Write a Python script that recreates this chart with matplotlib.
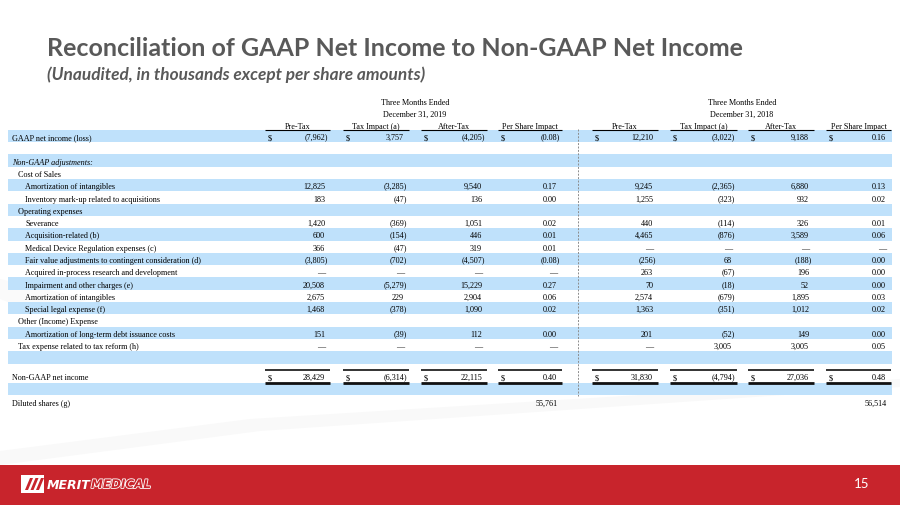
import matplotlib
matplotlib.use("Agg")
import numpy as np
import matplotlib.pyplot as plt
from matplotlib.patches import Rectangle, Polygon
import matplotlib.patheffects as pe

DASH = "—"

title = "Reconciliation of GAAP Net Income to Non-GAAP Net Income"
subtitle = "(Unaudited, in thousands except per share amounts)"
period_labels = ["Three Months Ended\nDecember 31, 2019", "Three Months Ended\nDecember 31, 2018"]
column_labels = ["Pre-Tax", "Tax Impact (a)", "After-Tax", "Per Share Impact"]

row_labels = [
    "GAAP net income (loss)", "", "Non-GAAP adjustments:", "Cost of Sales",
    "Amortization of intangibles", "Inventory mark-up related to acquisitions",
    "Operating expenses", "Severance", "Acquisition-related (b)",
    "Medical Device Regulation expenses (c)",
    "Fair value adjustments to contingent consideration (d)",
    "Acquired in-process research and development",
    "Impairment and other charges (e)", "Amortization of intangibles",
    "Special legal expense (f)", "Other (Income) Expense",
    "Amortization of long-term debt issuance costs",
    "Tax expense related to tax reform (h)", "", "Non-GAAP net income", "",
    "Diluted shares (g)",
]
row_indent = [0, 0, 0, 1, 2, 2, 1, 2, 2, 2, 2, 2, 2, 2, 2, 1, 2, 1, 0, 0, 0, 0]

pretax_2019 = [-7962, None, None, None, 12825, 183, None, 1420, 600, 366, -3805, DASH,
               20508, 2675, 1468, None, 151, DASH, None, 28429, None, None]
tax_2019 = [3757, None, None, None, -3285, -47, None, -369, -154, -47, -702, DASH,
            -5279, 229, -378, None, -39, DASH, None, -6314, None, None]
after_2019 = [-4205, None, None, None, 9540, 136, None, 1051, 446, 319, -4507, DASH,
              15229, 2904, 1090, None, 112, DASH, None, 22115, None, None]
pershare_2019 = [-0.08, None, None, None, 0.17, 0.00, None, 0.02, 0.01, 0.01, -0.08, DASH,
                 0.27, 0.06, 0.02, None, 0.00, DASH, None, 0.40, None, None]

pretax_2018 = [12210, None, None, None, 9245, 1255, None, 440, 4465, DASH, -256, 263,
               70, 2574, 1363, None, 201, DASH, None, 31830, None, None]
tax_2018 = [-3022, None, None, None, -2365, -323, None, -114, -876, DASH, 68, -67,
            -18, -679, -351, None, -52, 3005, None, -4794, None, None]
after_2018 = [9188, None, None, None, 6880, 932, None, 326, 3589, DASH, -188, 196,
              52, 1895, 1012, None, 149, 3005, None, 27036, None, None]
pershare_2018 = [0.16, None, None, None, 0.13, 0.02, None, 0.01, 0.06, DASH, 0.00, 0.00,
                 0.00, 0.03, 0.02, None, 0.00, 0.05, None, 0.48, None, None]

diluted_shares = [55761, 56514]
dollar_rows = [0, 19]
page_number = "15"

# ---------------------------------------------------------------- layout
W, H = 900, 506
DPI = 100
SERIF = "Liberation Serif"
FS = 5.9
BL = 3     # baseline offset from row centre (px)
EPS = 0.25
BLUE = "#BFE1FB"
RED = "#C8242C"
GRAY = "#595959"

pitch = 12.3
row_y = [137 + pitch * i for i in range(19)] + [377, 390.3, 403]

spans = [[(265, 330), (343, 409), (421, 487), (498, 562)],
         [(592, 658), (670, 737), (748, 814), (826, 891)]]
period_centers = [415, 742]
series = [[pretax_2019, tax_2019, after_2019, pershare_2019],
          [pretax_2018, tax_2018, after_2018, pershare_2018]]


def fmt(v, dec):
    if v is None:
        return None
    if v == DASH:
        return DASH
    s = f"{abs(v):,.{dec}f}"
    return f"({s})" if v < 0 else s


def base_y(y):
    return round(y + BL) + EPS


# collect numeric cells: (x, baseline_y, text, ha, row)
num_cells = []
for p in range(2):
    for c in range(4):
        l, r = spans[p][c]
        dec = 2 if c == 3 else 0
        for i, v in enumerate(series[p][c]):
            s = fmt(v, dec)
            if s is None:
                continue
            xr = r - 2 if s.endswith(")") else r - 5
            num_cells.append((xr, base_y(row_y[i]), s, "right", i))
    num_cells.append((spans[p][3][1] - 4, base_y(row_y[21]), f"{diluted_shares[p]:,}",
                      "right", 21))


def new_canvas():
    f = plt.figure(figsize=(W / DPI, H / DPI), dpi=DPI)
    a = f.add_axes([0, 0, 1, 1])
    a.set_xlim(0, W)
    a.set_ylim(H, 0)
    a.axis("off")
    return f, a


# measure glyph-rounding offsets so that digit tops line up across a row
def ink_top(img, bb, trim):
    c0 = int(np.floor(bb.x0)) + trim
    c1 = int(np.ceil(bb.x1)) - trim
    r0 = max(int(H - bb.y1) - 3, 0)
    r1 = min(int(H - bb.y0) + 3, H)
    sub = img[r0:r1, c0:c1]
    rows = np.where(sub.min(axis=1) < 150)[0]
    return r0 + rows[0] if len(rows) else None


sf, sa = new_canvas()
meas = []
refs = {}
for (x, y, s, ha, i) in num_cells:
    if s == DASH:
        meas.append(None)
        continue
    meas.append(sa.text(x, y, s, family=SERIF, fontsize=FS, ha=ha, va="baseline"))
    if i not in refs:
        refs[i] = sa.text(150, y, "8", family=SERIF, fontsize=FS, ha="left",
                          va="baseline")
sf.canvas.draw()
simg = np.asarray(sf.canvas.buffer_rgba())[..., 0].astype(int)
corr = []
for (x, y, s, ha, i), t in zip(num_cells, meas):
    if t is None:
        corr.append(0)
        continue
    trim = 3 if s.startswith("(") else 0
    top = ink_top(simg, t.get_window_extent(), trim)
    rtop = ink_top(simg, refs[i].get_window_extent(), 0)
    corr.append(0 if (top is None or rtop is None) else top - rtop)
plt.close(sf)

# ---------------------------------------------------------------- real figure
fig, ax = new_canvas()

# faint background swooshes
ax.add_patch(Polygon([(0, 466), (0, 452), (250, 420), (900, 380), (900, 388), (260, 432)],
                     closed=True, facecolor="#F9F9F9", edgecolor="none", zorder=0))
ax.add_patch(Polygon([(0, 300), (0, 280), (90, 300), (40, 315)],
                     closed=True, facecolor="#FAFAFA", edgecolor="none", zorder=0))

renderer = fig.canvas.get_renderer()


def fit_text(x, y, s, width, **kw):
    t = ax.text(x, y, s, fontsize=10, **kw)
    bb = t.get_window_extent(renderer=renderer)
    t.set_fontsize(10 * width / bb.width)
    return t


fit_text(47, 56, title, 697, family="Lato", fontweight="bold", color=GRAY, va="baseline")
fit_text(47, 80, subtitle, 379, family="Lato", fontweight="bold", style="italic",
         color=GRAY, va="baseline")


def cell(x, y, s, ha="left", **kw):
    ax.text(x, base_y(y), s, family=SERIF, fontsize=FS, ha=ha, va="baseline",
            zorder=3, **kw)


# shading
for i, y in enumerate(row_y):
    if i % 2 == 0 and i < 21:
        ax.add_patch(Rectangle((8, y - pitch / 2), 884, pitch, facecolor=BLUE,
                               edgecolor="none", zorder=1))

for p in range(2):
    plines = period_labels[p].split("\n")
    cell(period_centers[p], 102, plines[0], ha="center")
    cell(period_centers[p], 114, plines[1], ha="center")
    for c in range(4):
        l, r = spans[p][c]
        cell((l + r) / 2, 126, column_labels[c], ha="center")
        ax.plot([l, r], [130.5, 130.5], color="black", lw=0.8, zorder=3,
                solid_capstyle="butt")
        ax.plot([l, r], [370.5, 370.5], color="#111111", lw=1.2, zorder=3,
                solid_capstyle="butt")
        ax.plot([l, r], [384, 384], color="#111111", lw=2.0, zorder=3,
                solid_capstyle="butt")
        for i in dollar_rows:
            cell(l + 3, row_y[i], "$")

for (x, y, s, ha, i), dc in zip(num_cells, corr):
    ax.text(x, y - dc, s, family=SERIF, fontsize=FS, ha=ha, va="baseline", zorder=3)

# row labels
indent_x = [12, 18, 25]
for i, lab in enumerate(row_labels):
    if not lab:
        continue
    cell(indent_x[row_indent[i]], row_y[i], lab, style="italic" if i == 2 else "normal")

# dashed divider
ax.plot([578, 578], [130, 397], color="#8C8C8C", lw=0.7, ls=(0, (2, 1.5)), zorder=4)

# footer
ax.add_patch(Rectangle((0, 466), W, 40, facecolor=RED, edgecolor="none", zorder=5))
ax.add_patch(Rectangle((21, 476), 23, 18, facecolor="white", edgecolor="none", zorder=6))
for k in range(3):
    x0 = 25 + k * 5.5
    ax.add_patch(Polygon([(x0, 491), (x0 + 3, 491), (x0 + 8, 479), (x0 + 5, 479)],
                         closed=True, facecolor=RED, edgecolor="none", zorder=7))
ax.text(47, 485.5, "MERIT", family="DejaVu Sans", fontweight="bold", style="italic",
        fontsize=9, color="white", ha="left", va="center", zorder=7)
ax.text(91, 485.5, "MEDICAL", family="DejaVu Sans", fontweight="bold", style="italic",
        fontsize=8.6, color=RED, ha="left", va="center", zorder=7,
        path_effects=[pe.withStroke(linewidth=1.2, foreground="white")])
ax.text(862, 484, page_number, family="Lato", fontsize=9.5, color="white",
        ha="center", va="center", zorder=7)

fig.savefig("out.png", dpi=DPI)
